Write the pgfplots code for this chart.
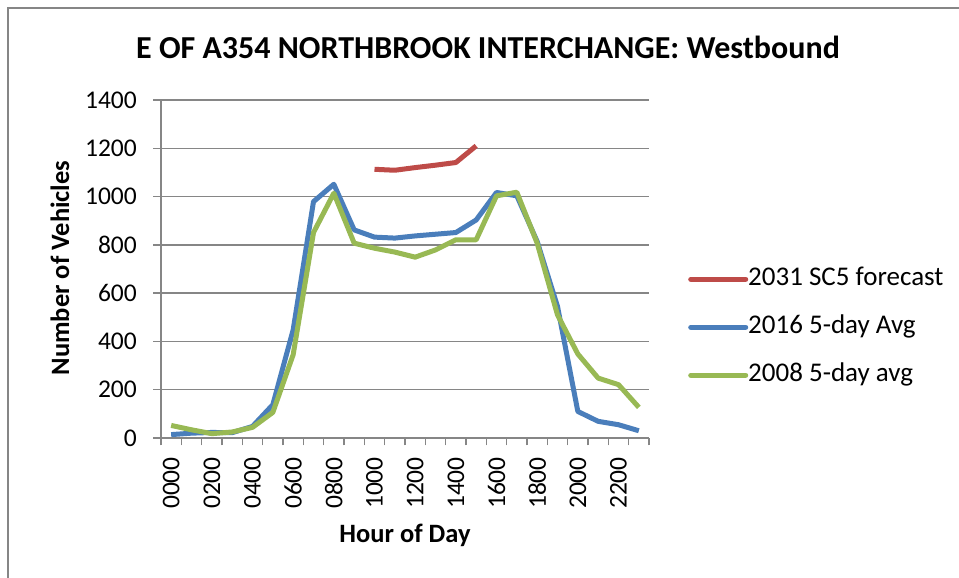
\documentclass[border=0pt]{standalone}
\usepackage{pgfplots}
\pgfplotsset{compat=1.18}
\usepackage{fontspec}
\setmainfont{Carlito}
\definecolor{gridgray}{HTML}{868686}
\definecolor{sred}{HTML}{BE4B48}
\definecolor{sblue}{HTML}{4A7EBB}
\definecolor{sgreen}{HTML}{98B954}
\begin{document}
\begin{tikzpicture}
\useasboundingbox (0pt,0pt) rectangle (959pt,578pt);
\draw[gridgray, line width=1.5pt] (8pt,0pt) -- (8pt,570pt) -- (959pt,570pt);
\node[font=\fontsize{32}{36}\selectfont\bfseries] at (488pt,531pt) {E OF A354 NORTHBROOK INTERCHANGE: Westbound};
\begin{axis}[
  at={(161pt,140pt)}, anchor=south west,
  scale only axis, width=488pt, height=338pt,
  xmin=-0.5, xmax=23.5, ymin=0, ymax=1400,
  axis x line*=bottom, axis y line*=left,
  axis line style={gridgray, line width=1.5pt},
  ytick={0,200,...,1400},
  minor ytick={0,200,...,1400},
  ymajorgrids, grid style={gridgray, line width=1.5pt},
  xtick={0,2,...,22},
  xticklabels={0000,0200,0400,0600,0800,1000,1200,1400,1600,1800,2000,2200},
  minor xtick={-0.5,0.5,...,23.5},
  tick align=outside,
  major tick length=0pt, minor tick length=7.5pt,
  every tick/.style={gridgray, line width=1.5pt},
  /pgf/number format/assume math mode=true,
  ticklabel style={font=\fontsize{25.5}{30}\selectfont, inner sep=0pt},
  x tick label style={rotate=90, anchor=east},
  xticklabel shift=19pt,
  yticklabel shift=24pt,
  scaled y ticks=false,
  yticklabel style={/pgf/number format/1000 sep={}},
  xlabel={Hour of Day}, ylabel={Number of Vehicles},
  label style={font=\fontsize{26.5}{30}\selectfont\bfseries},
  xlabel style={at={(axis description cs:0.5,-0.287)}, anchor=center},
  ylabel style={at={(axis description cs:-0.207,0.503)}, anchor=center},
  legend style={draw=none, fill=none, at={(axis description cs:1.08,0.328)}, anchor=west,
    inner sep=0pt, row sep=24pt,
    nodes={inner sep=0pt, text height=18pt, text depth=6pt, font=\fontsize{27}{30}\selectfont},
    /tikz/every even column/.append style={column sep=5pt}},
  legend cell align=left,
  legend image code/.code={\draw[#1, line width=5pt, line cap=round] (0pt,0pt) -- (55pt,0pt);},
  every axis plot/.append style={line width=5pt, line join=round, no markers},
]
\addplot[sred] coordinates {
(10,1113) (11,1109) (12,1120) (13,1130) (14,1141) (15,1210)
};
\addlegendentry{2031 SC5 forecast}
\addplot[sblue] coordinates {
(0,14) (1,20) (2,23) (3,22) (4,48) (5,138) (6,448) (7,979) (8,1051) (9,862)
(10,832) (11,828) (12,837) (13,844) (14,851) (15,903) (16,1017) (17,1003)
(18,814) (19,545) (20,110) (21,69) (22,55) (23,30)
};
\addlegendentry{2016 5-day Avg}
\addplot[sgreen] coordinates {
(0,52) (1,34) (2,18) (3,25) (4,44) (5,106) (6,345) (7,851) (8,1014) (9,807)
(10,786) (11,770) (12,749) (13,779) (14,821) (15,821) (16,1003) (17,1018)
(18,807) (19,510) (20,348) (21,248) (22,221) (23,127)
};
\addlegendentry{2008 5-day avg}
\end{axis}
\end{tikzpicture}
\end{document}
